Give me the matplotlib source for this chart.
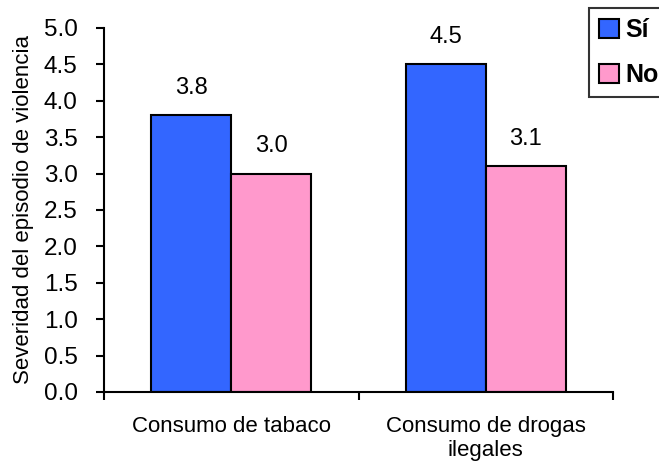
import matplotlib.pyplot as plt
import numpy as np

categories = ["Consumo de tabaco", "Consumo de drogas\nilegales"]
si_values = [3.8, 4.5]
no_values = [3.0, 3.1]
series_names = ["Sí", "No"]

plt.rcParams["font.family"] = ["Liberation Sans", "DejaVu Sans"]

fig = plt.figure(figsize=(6.59, 4.66), dpi=100)
ax = fig.add_axes([104 / 659, 1 - 392 / 466, 509 / 659, 364 / 466])

x = np.arange(len(categories))
w = 0.315
b1 = ax.bar(x - w / 2, si_values, w, color="#3366FF", edgecolor="black", linewidth=1.5, label=series_names[0])
b2 = ax.bar(x + w / 2, no_values, w, color="#FF99CC", edgecolor="black", linewidth=1.5, label=series_names[1])

for bars, vals in [(b1, si_values), (b2, no_values)]:
    for bar, v in zip(bars, vals):
        ax.annotate(f"{v:.1f}", (bar.get_x() + bar.get_width() / 2, v),
                    xytext=(0, 12), textcoords="offset points",
                    ha="center", va="bottom", fontsize=17)

ax.set_xlim(-0.5, len(categories) - 0.5)
ax.set_ylim(0, 5)
ticks = np.arange(0, 5.01, 0.5)
ax.set_yticks(ticks)
ax.set_yticklabels([f"{t:.1f}" for t in ticks], fontsize=17.5)
ax.set_xticks(np.arange(-0.5, len(categories), 1.0))
ax.set_xticklabels([])
ax.set_xticks(x, minor=True)
ax.set_xticklabels(categories, minor=True, fontsize=16)
ax.tick_params(axis="x", which="minor", length=0, pad=17)
ax.tick_params(axis="both", which="major", direction="out", length=6, width=1.5)
ax.tick_params(axis="y", which="major", pad=13)
ax.set_ylabel("Severidad del episodio de violencia", fontsize=16, labelpad=7)

for s in ["top", "right"]:
    ax.spines[s].set_visible(False)
for s in ["left", "bottom"]:
    ax.spines[s].set_linewidth(1.5)

leg = fig.legend(handles=[b1, b2], loc="upper left", bbox_to_anchor=(589 / 659, 1 - 8 / 466),
                 prop={"weight": "bold", "size": 18}, frameon=True, fancybox=False,
                 handlelength=0.8, handleheight=0.8, handletextpad=0.25,
                 borderpad=0.4, labelspacing=0.85, borderaxespad=0)
leg.get_frame().set_edgecolor("black")
leg.get_frame().set_linewidth(1.5)

fig.savefig("out.png", dpi=100)
